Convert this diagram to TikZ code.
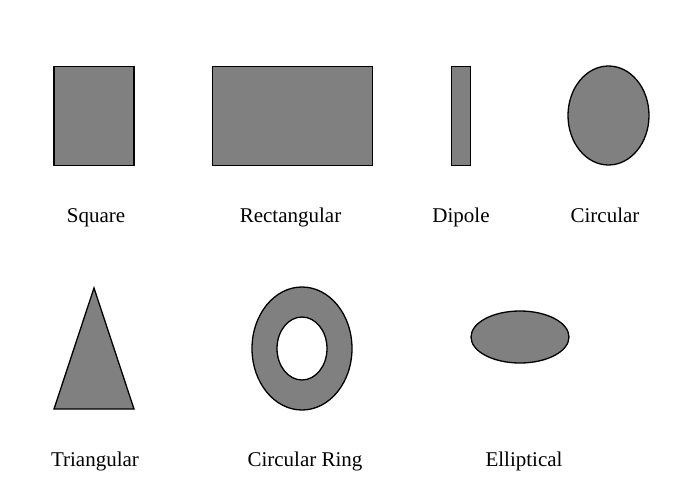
\documentclass[tikz,border=0pt]{standalone}
\usepackage{fontspec}
\setmainfont{Liberation Serif}
\usetikzlibrary{shapes.geometric}
\definecolor{shapegray}{RGB}{128,128,128}
\tikzset{
  shp/.style={draw=black, fill=shapegray, line width=1.3pt, inner sep=0pt, outer sep=0pt},
  lbl/.style={anchor=base, inner sep=0pt, font=\fontsize{21}{25}\selectfont}
}
\begin{document}
\begin{tikzpicture}[x=1pt, y=-1pt]
\useasboundingbox[fill=white] (0,0) rectangle (678,498);
% top row
\node[shp, rectangle, minimum width=80pt, minimum height=99pt] (square) at (94,116) {};
\node[shp, rectangle, minimum width=160pt, minimum height=99pt] (rect) at (292.5,116) {};
\node[shp, rectangle, minimum width=19pt, minimum height=99pt] (dipole) at (461,116) {};
\node[shp, ellipse, minimum width=81pt, minimum height=99pt] (circ) at (608.5,115.5) {};
% bottom row
\coordinate (triA) at (94,288);
\coordinate (triB) at (54,409);
\coordinate (triC) at (134,409);
\draw[shp, line join=miter] (triA) -- (triB) -- (triC) -- cycle;
\coordinate (ring) at (302,348.5);
\fill[shapegray, even odd rule] (ring) ellipse [x radius=50, y radius=61.5] (ring) ellipse [x radius=25, y radius=31.5];
\draw[line width=1.3pt] (ring) ellipse [x radius=50, y radius=61.5];
\draw[line width=1.3pt] (ring) ellipse [x radius=25, y radius=31.5];
\node[shp, ellipse, minimum width=98pt, minimum height=52pt] (ell) at (520,337) {};
% labels
\node[lbl] (lsq) at (96,222) {Square};
\node[lbl] (lrect) at (290.5,222) {Rectangular};
\node[lbl] (ldip) at (461,222) {Dipole};
\node[lbl] (lcirc) at (605,222) {Circular};
\node[lbl] (ltri) at (95,466) {Triangular};
\node[lbl] (lring) at (305,466) {Circular Ring};
\node[lbl] (lell) at (524,466) {Elliptical};
\end{tikzpicture}
\end{document}
